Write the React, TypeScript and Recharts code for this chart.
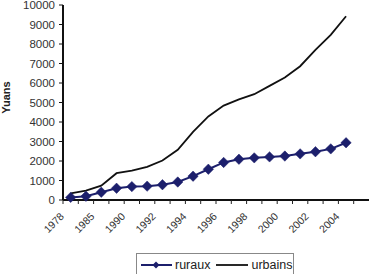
import React from 'react';
import { LineChart, Line, XAxis, YAxis, Legend } from 'recharts';

const years = ['1978','1980','1985','1989','1990','1991','1992','1993','1994','1995','1996','1997','1998','1999','2000','2001','2002','2003','2004'];
const ruraux = [134,191,398,602,686,709,784,922,1221,1578,1926,2090,2162,2210,2253,2366,2476,2622,2936];
const urbains = [343,478,739,1374,1510,1701,2027,2577,3496,4283,4839,5160,5425,5854,6280,6860,7703,8472,9422];
const yTicks = [0,1000,2000,3000,4000,5000,6000,7000,8000,9000,10000];

const data = years.map((y, i) => ({ year: y, ruraux: ruraux[i], urbains: urbains[i] }));

const FONT = '"Liberation Sans", Arial, sans-serif';
const NAVY = '#1c1f6c';
const HALF_BAND = 7.65;

const Diamond = (props: any) => {
  const { cx, cy, index } = props;
  if (cx == null || cy == null) return <g key={index} />;
  const r = 5.2;
  return (
    <path
      key={index}
      d={`M${cx},${cy - r} L${cx + r},${cy} L${cx},${cy + r} L${cx - r},${cy} Z`}
      fill={NAVY}
      stroke={NAVY}
      strokeWidth={0.5}
    />
  );
};

const XTick = (props: any) => {
  const { x, y, payload, index } = props;
  const last = index === years.length - 1;
  const ax = x - 6;
  const ay = y + 17;
  return (
    <g>
      <line x1={x - HALF_BAND} x2={x - HALF_BAND} y1={y} y2={y + 4} stroke="#222" strokeWidth={1} />
      {last && <line x1={x + HALF_BAND} x2={x + HALF_BAND} y1={y} y2={y + 4} stroke="#222" strokeWidth={1} />}
      {index % 2 === 0 && (
        <text
          x={ax}
          y={ay}
          transform={`rotate(-45, ${ax}, ${ay})`}
          textAnchor="end"
          fontSize={10.5}
          fontFamily={FONT}
          fill="#333"
        >
          {payload.value}
        </text>
      )}
    </g>
  );
};

const LegendContent = () => (
  <div
    style={{
      width: 158,
      height: 24,
      border: '1px solid #888',
      boxSizing: 'border-box',
      background: '#fff',
      display: 'flex',
      alignItems: 'center',
      fontFamily: FONT,
      fontSize: 12.5,
      color: '#222',
      paddingLeft: 3,
    }}
  >
    <svg width={33} height={12} style={{ marginRight: 2 }}>
      <line x1={1} x2={32} y1={6} y2={6} stroke={NAVY} strokeWidth={2} />
      <path d="M16,2.5 L19.5,6 L16,9.5 L12.5,6 Z" fill={NAVY} />
    </svg>
    <span style={{ marginRight: 6 }}>ruraux</span>
    <svg width={33} height={12} style={{ marginRight: 2 }}>
      <line x1={0} x2={32} y1={6} y2={6} stroke="#111" strokeWidth={1.8} />
    </svg>
    <span>urbains</span>
  </div>
);

const YLabel = (props: any) => {
  const { viewBox } = props;
  const cx = viewBox.x + 6;
  const cy = viewBox.y + viewBox.height / 2 - 5;
  return (
    <text
      x={cx}
      y={cy}
      transform={`rotate(-90, ${cx}, ${cy})`}
      textAnchor="middle"
      dominantBaseline="central"
      fontSize={11}
      fontWeight="bold"
      fontFamily={FONT}
      fill="#222"
    >
      Yuans
    </text>
  );
};

export default function App() {
  return (
    <div style={{ position: 'absolute', left: 0, top: 0, background: '#fff' }}>
      <LineChart width={371} height={274} data={data} margin={{ top: 5, right: 2, left: 0, bottom: 0 }}>
        <XAxis
          dataKey="year"
          height={74}
          interval={0}
          padding={{ left: HALF_BAND, right: HALF_BAND * 3 }}
          tickSize={0}
          tickMargin={0}
          tickLine={false}
          axisLine={{ stroke: '#111', strokeWidth: 2 }}
          tick={<XTick />}
        />
        <XAxis
          xAxisId="top"
          dataKey="year"
          orientation="top"
          height={0}
          tick={false}
          tickLine={false}
          axisLine={{ stroke: '#444', strokeWidth: 2 }}
        />
        <YAxis
          width={63}
          domain={[0, 10000]}
          ticks={yTicks}
          interval={0}
          tickSize={4}
          tickMargin={4}
          tickLine={{ stroke: '#111' }}
          axisLine={{ stroke: '#111', strokeWidth: 2 }}
          tick={{ fontSize: 11.5, fontFamily: FONT, fill: '#333' }}
          label={<YLabel />}
        />
        <YAxis
          yAxisId="right"
          orientation="right"
          width={0}
          domain={[0, 10000]}
          tick={false}
          tickLine={false}
          axisLine={{ stroke: '#444', strokeWidth: 2 }}
        />
        <Legend
          layout="horizontal"
          verticalAlign="middle"
          align="center"
          content={<LegendContent />}
          wrapperStyle={{ position: 'absolute', left: 136, top: 253, width: 158, height: 24 }}
        />
        <Line
          type="linear"
          dataKey="urbains"
          stroke="#111"
          strokeWidth={1.8}
          dot={false}
          isAnimationActive={false}
        />
        <Line
          type="linear"
          dataKey="ruraux"
          stroke={NAVY}
          strokeWidth={2}
          dot={<Diamond />}
          isAnimationActive={false}
        />
      </LineChart>
    </div>
  );
}
